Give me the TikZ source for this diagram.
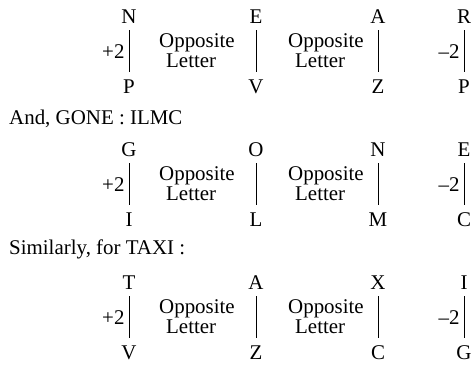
\documentclass[tikz,border=0pt]{standalone}
\usepackage{fontspec}
\setmainfont{Liberation Serif}
\begin{document}
\begin{tikzpicture}[x=1bp,y=-1bp,
  every node/.style={font=\fontsize{21}{20}\selectfont, inner sep=0pt},
  letter/.style={anchor=base, inner ysep=7bp},
  txt/.style={anchor=base west},
  conn/.style={line width=1bp},
  lbl/.style={midway, left=4bp}]
\useasboundingbox (0,0) rectangle (473,369);
\foreach \T/\a/\b/\c/\d/\e/\f/\g/\h/\k in {23/N/P/E/V/A/Z/R/P/1, 156/G/I/O/L/N/M/E/C/2, 289/T/V/A/Z/X/C/I/G/3}{
  \node[letter] (ta\k) at (129,\T) {\a};
  \node[letter] (ba\k) at (129,\T+70) {\b};
  \node[letter] (tb\k) at (256,\T) {\c};
  \node[letter] (bb\k) at (256,\T+70) {\d};
  \node[letter] (tc\k) at (378,\T) {\e};
  \node[letter] (bc\k) at (378,\T+70) {\f};
  \node[letter] (td\k) at (464,\T) {\g};
  \node[letter] (bd\k) at (464,\T+70) {\h};
  \draw[conn] (ta\k.south) -- (ba\k.north) node[lbl] (pl\k) {+2};
  \draw[conn] (tb\k.south) -- (bb\k.north);
  \draw[conn] (tc\k.south) -- (bc\k.north);
  \draw[conn] (td\k.south) -- (bd\k.north) node[lbl] (mi\k) {–2};
  \node[txt] (oa\k) at (159,\T+24) {Opposite};
  \node[txt] (la\k) at (166,\T+44) {Letter};
  \node[txt] (ob\k) at (288,\T+24) {Opposite};
  \node[txt] (lb\k) at (295,\T+44) {Letter};
}
\node[txt] (and) at (9,124) {And, GONE : ILMC};
\node[txt] (sim) at (9,254) {Similarly, for TAXI :};
\end{tikzpicture}
\end{document}
